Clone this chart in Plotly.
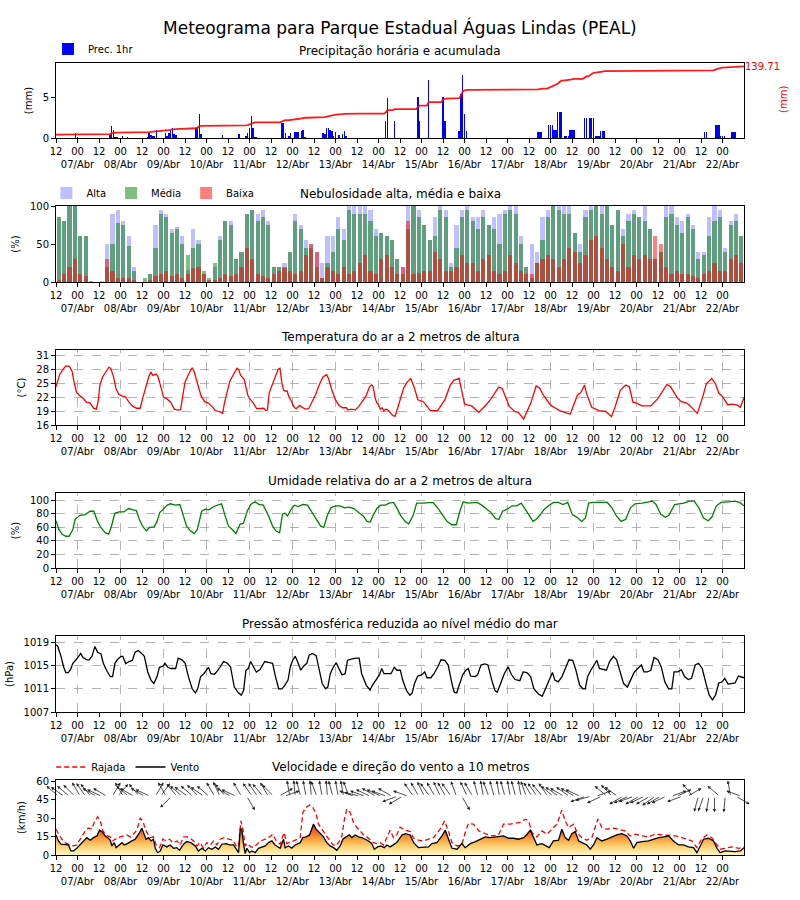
import numpy as np
import plotly.graph_objects as go

FONT = "DejaVu Sans"

# ---------------- time axis ----------------
TICK_HOURS = list(range(0, 384, 12))
TICK_TEXT = [("12" if (h // 12) % 2 == 0 else "00<br>%02d/Abr" % (7 + h // 24)) for h in TICK_HOURS]
DAY_HOURS = list(range(12, 384, 24))

# ---------------- precipitation (hour: mm) ----------------
PREC_HOURLY = {
    11: 0.65, 12: 0.1, 30: 0.4, 31: 1.5, 32: 1.0, 33: 0.15, 34: 0.15, 37: 0.3, 40: 0.15,
    51: 0.15, 52: 0.6, 53: 0.4, 54: 0.3, 55: 0.3, 56: 1.0, 61: 0.6, 62: 0.3, 63: 0.6,
    64: 1.0, 65: 1.2, 66: 0.5, 67: 0.4, 78: 1.2, 79: 1.4, 80: 3.0, 81: 0.5, 93: 0.35,
    102: 0.5, 106: 0.3, 107: 0.6, 108: 1.2, 109: 2.7, 110: 1.2, 111: 0.15, 112: 0.1,
    126: 1.9, 127: 1.9, 128: 0.6, 130: 0.3, 131: 0.6, 133: 0.7, 134: 0.7, 135: 0.8,
    137: 0.9, 138: 1.0, 139: 0.15, 149: 0.6, 150: 0.5, 151: 1.2, 152: 1.2, 153: 1.0,
    154: 0.9, 155: 0.2, 156: 0.8, 158: 0.35, 160: 0.5, 161: 0.9, 162: 0.2,
    184: 2.1, 185: 5.0, 189: 2.1, 202: 5.1, 203: 2.1, 208: 7.2, 216: 5.1, 217: 2.1,
    225: 0.9, 226: 5.4, 227: 7.8, 228: 3.0, 229: 0.9,
    269: 0.8, 270: 0.8, 271: 0.8, 275: 1.6, 276: 1.6, 277: 1.6, 278: 1.0, 279: 1.0,
    280: 3.2, 281: 3.2, 282: 3.2, 284: 0.25, 285: 0.25, 286: 0.25, 287: 1.0, 288: 1.0,
    289: 1.0, 295: 2.5, 296: 2.5, 298: 2.5, 299: 2.5, 300: 2.5, 301: 0.25, 302: 0.25,
    303: 0.25, 304: 0.9, 305: 0.9, 306: 0.9, 362: 0.7, 363: 0.7, 368: 1.65, 369: 1.65,
    370: 1.65, 371: 0.3, 372: 0.3, 373: 0.3, 377: 0.8, 378: 0.8, 379: 0.71,
}
PREC_TOTAL_LABEL = "139.71"

# ---------------- cloud cover (3-hourly, %) ----------------
CLOUD_HOURS = [3 * i + 1.5 for i in range(128)]
CLOUD_ALTA = [85, 80, 100, 100, 60, 60, 0, 0, 1, 50, 90, 95, 80, 60, 20, 0,
              0, 10, 75, 95, 90, 70, 72, 60, 16, 70, 55, 10, 0, 20, 60, 80,
              80, 30, 40, 90, 95, 90, 95, 80, 20, 20, 25, 40, 90, 75, 55, 50,
              40, 25, 60, 60, 85, 70, 100, 100, 100, 100, 95, 70, 65, 60, 55, 30,
              20, 100, 100, 95, 75, 55, 85, 100, 95, 25, 75, 95, 100, 85, 85, 95,
              75, 85, 90, 95, 100, 100, 60, 20, 50, 40, 85, 95, 100, 100, 100, 100,
              65, 50, 95, 100, 100, 100, 100, 75, 95, 70, 90, 95, 85, 100, 70, 30,
              40, 100, 100, 85, 80, 90, 75, 40, 40, 85, 100, 95, 45, 80, 90, 60]
CLOUD_MEDIA = [85, 80, 100, 100, 60, 60, 1, 0, 0, 20, 50, 78, 75, 48, 15, 0,
               5, 10, 45, 90, 85, 65, 70, 50, 35, 45, 50, 15, 5, 25, 55, 80,
               75, 30, 40, 90, 95, 80, 85, 75, 20, 20, 20, 40, 80, 70, 45, 45,
               20, 5, 25, 40, 70, 55, 95, 90, 90, 90, 80, 60, 65, 60, 55, 30,
               10, 70, 100, 85, 75, 55, 60, 95, 85, 20, 45, 85, 95, 80, 70, 85,
               75, 70, 50, 90, 95, 90, 50, 20, 5, 25, 55, 85, 100, 95, 90, 90,
               65, 40, 85, 95, 100, 90, 100, 75, 95, 60, 80, 90, 85, 80, 70, 30,
               40, 85, 90, 75, 65, 85, 70, 30, 35, 60, 80, 85, 40, 75, 80, 60]
CLOUD_BAIXA = [3, 10, 20, 30, 10, 8, 0, 0, 0, 30, 15, 5, 5, 5, 3, 0,
               0, 3, 8, 10, 15, 8, 10, 5, 10, 18, 20, 10, 2, 3, 5, 10,
               8, 10, 20, 45, 30, 10, 8, 5, 10, 15, 18, 15, 10, 15, 35, 50,
               40, 5, 20, 15, 10, 20, 10, 15, 25, 35, 15, 10, 30, 35, 20, 10,
               20, 80, 10, 12, 15, 15, 40, 30, 15, 15, 20, 35, 25, 25, 15, 30,
               35, 15, 10, 15, 35, 25, 15, 10, 10, 25, 30, 35, 30, 20, 30, 45,
               40, 25, 35, 55, 60, 45, 30, 20, 15, 50, 20, 35, 30, 35, 30, 60,
               50, 20, 10, 15, 10, 10, 8, 5, 10, 15, 25, 15, 15, 30, 35, 25]

# ---------------- temperature (hour, degC) ----------------
TEMP = [(0, 24.2), (2, 26.8), (4, 28.0), (5.5, 28.7), (7.5, 28.6), (9, 27.5), (10, 25.3), (11.5, 23.0),
        (13, 22.4), (15, 21.8), (17, 20.9), (19, 20.7), (21, 19.6), (22.5, 19.4), (23.5, 21.0), (24.5, 24.5),
        (26, 26.3), (28, 27.6), (29.5, 28.4), (30.5, 28.2), (32, 26.5), (33.5, 23.8), (35, 22.6), (37, 22.2),
        (39, 22.0), (40.5, 21.0), (43, 20.0), (45, 19.6), (47, 19.6), (48.2, 21.5), (50, 24.0), (52, 26.6),
        (53, 27.3), (54, 26.7), (56, 26.9), (57, 26.3), (59, 23.5), (60, 22.0), (62, 21.6), (64, 20.9),
        (66, 19.4), (68, 19.2), (69.5, 19.3), (71, 23.0), (72, 25.2), (74, 26.9), (76, 28.3), (77, 27.6),
        (79, 25.0), (81, 22.2), (83, 21.0), (85, 20.7), (87, 20.0), (89, 19.1), (91, 18.9), (93, 18.5),
        (94, 20.7), (95, 22.5), (97, 25.4), (99, 26.8), (101, 28.2), (102, 27.9), (103, 26.7), (105, 25.8),
        (106, 24.0), (107, 22.5), (108, 21.7), (110, 20.8), (112, 19.5), (114, 19.6), (116, 19.6), (117, 19.1),
        (118, 19.2), (119, 22.9), (121, 25.0), (123, 27.0), (124, 28.0), (125, 28.2), (126, 25.2), (127, 23.5),
        (128, 23.3), (129, 23.3), (130, 22.0), (131, 21.4), (133, 19.8), (134, 19.5), (135, 19.9), (136, 20.2),
        (137, 19.9), (139, 19.4), (141, 19.5), (143, 21.0), (145, 22.6), (147, 24.7), (149, 26.3), (151, 26.8),
        (152, 26.1), (154, 23.5), (156, 21.4), (158, 20.2), (160, 19.7), (162, 19.7), (163, 19.2), (165, 19.4),
        (167, 19.2), (169, 20.0), (171, 21.0), (173, 22.2), (175, 24.2), (176, 24.6), (177, 24.3), (178, 22.0),
        (179, 20.8), (180, 20.4), (181, 19.4), (182, 19.7), (183, 19.0), (184, 19.4), (185, 19.3), (186, 18.8),
        (188, 18.0), (189.3, 17.9), (192, 21.7), (194, 23.9), (196, 25.2), (198, 26.0), (200, 24.0), (202, 21.4),
        (205, 21.0), (209, 19.1), (213, 19.1), (217, 21.4), (220, 24.5), (222, 25.6), (225, 26.0), (227, 22.0),
        (228, 20.5), (232, 20.1), (236, 18.7), (240, 20.3), (243, 21.7), (247, 24.1), (249, 23.9), (253, 20.0),
        (256, 18.9), (258, 18.7), (261, 17.3), (265, 20.7), (268, 24.4), (270, 23.9), (272, 22.4), (276, 20.3),
        (281, 19.1), (284, 18.7), (287, 18.3), (291, 22.4), (293, 23.0), (295, 24.6), (296, 22.9), (299, 19.8),
        (303, 19.1), (307, 18.9), (310, 17.8), (312, 19.8), (315, 23.5), (318, 24.6), (320, 24.2), (322, 20.9),
        (324, 20.7), (327, 20.1), (332, 20.1), (336, 21.7), (339, 23.5), (341, 24.7), (343, 24.2), (347, 21.7),
        (349, 21.0), (352, 20.7), (354, 20.1), (358, 18.5), (361, 22.1), (363, 24.9), (366, 26.0), (368, 24.9),
        (370, 22.8), (372, 22.1), (375, 20.3), (377, 20.5), (380, 20.3), (382, 19.8), (384, 21.9)]

# ---------------- relative humidity (hour, %) ----------------
RH = [(0, 70), (1.6, 57), (3.4, 50), (5.5, 47), (7.3, 47), (9.4, 57), (10.7, 72), (13.3, 78), (16.4, 79),
      (19, 84), (21.1, 84), (23.2, 69), (25, 60), (27.6, 52), (29.4, 50), (30.9, 61), (32.8, 81), (35.3, 83),
      (37.9, 83), (40.5, 88), (43.1, 86), (44.9, 85), (46.5, 72), (48.3, 62), (50.4, 55), (52.2, 60),
      (54.8, 61), (56.4, 69), (57.9, 82), (60, 87), (62.1, 93), (63.9, 95), (66.5, 93), (69.1, 94), (70.9, 79),
      (72.9, 62), (75, 55), (77.1, 51), (78.9, 57), (81.3, 84), (83.3, 87), (85.4, 86), (88, 91), (90.6, 93),
      (92.4, 95), (94.2, 79), (96.3, 62), (98.4, 57), (100.4, 51), (102.8, 65), (104.6, 66), (106.7, 84),
      (108.7, 94), (111.1, 98), (113.2, 94), (115.7, 93), (118.3, 79), (120.9, 62), (122.7, 55), (124.8, 52),
      (126.4, 80), (127.9, 81), (129.2, 77), (131.3, 87), (133.1, 93), (135.2, 91), (137.8, 94), (140.4, 93),
      (143, 82), (145.5, 72), (147.7, 62), (149.5, 60), (151.3, 77), (153.4, 89), (155.9, 92), (158.5, 92),
      (161.1, 89), (163.7, 90), (166.3, 88), (168.9, 82), (171.5, 77), (173.6, 69), (175.4, 68), (177.2, 79),
      (179.3, 89), (181.3, 93), (183.9, 93), (185.8, 96), (188.4, 97), (190.2, 89), (192.3, 78), (194.8, 69),
      (196.9, 65), (199.5, 79), (201.3, 96), (204.7, 96), (207.8, 97), (210.4, 97), (213, 89), (215.6, 79),
      (218.2, 69), (220.8, 64), (223.4, 64), (225.4, 84), (227.3, 98), (229.9, 96), (232.4, 96), (235, 97),
      (237.6, 93), (240.2, 88), (242.8, 82), (245.4, 73), (247.2, 72), (249.3, 84), (251.9, 87), (254.5, 92),
      (257.1, 92), (259.7, 96), (261.7, 87), (264.3, 77), (266.2, 69), (268, 72), (270, 78), (272.6, 87),
      (275.2, 93), (277.8, 97), (280.4, 97), (283, 94), (285.6, 97), (288.2, 79), (290.8, 75), (293.4, 69),
      (295.5, 74), (297.3, 96), (299.9, 97), (303.8, 97), (307.7, 97), (310.3, 89), (312.8, 77), (315.4, 69),
      (318, 72), (320.6, 89), (323.2, 95), (327.1, 96), (329.7, 97), (332.8, 99), (334.9, 94), (337.5, 80),
      (340, 75), (342.1, 78), (345.3, 94), (347.8, 95), (350.4, 96), (353.6, 99), (356.2, 99), (358.8, 89),
      (361.4, 74), (364, 70), (366, 75), (368.6, 92), (371.2, 97), (375.1, 98), (379, 99), (381.6, 97), (384, 92)]

# ---------------- sea-level pressure (hour, hPa) ----------------
PRES = [(0, 1018.6), (1.0, 1018.3), (2.8, 1016.6), (4.2, 1014.8), (5.5, 1013.8), (6.8, 1013.8), (8.1, 1014.3),
        (9.4, 1015.4), (11.2, 1016.0), (12.8, 1016.8), (13.8, 1017.1), (15.1, 1016.4), (17.2, 1016.0),
        (18.5, 1016.0), (20.1, 1016.6), (21.7, 1018.3), (23.2, 1017.3), (25.1, 1017.0), (26.4, 1015.4),
        (28.2, 1014.2), (30.3, 1013.1), (31.6, 1013.1), (32.9, 1015.4), (34.2, 1016.0), (36.3, 1016.6),
        (37.3, 1016.6), (38.9, 1015.3), (40.7, 1015.7), (42.6, 1015.9), (44.1, 1017.3), (45.9, 1017.6),
        (47.8, 1017.1), (49.3, 1016.6), (51.2, 1013.9), (53.0, 1012.5), (54.6, 1011.9), (56.4, 1013.1),
        (57.7, 1014.7), (59.8, 1014.9), (60.8, 1015.4), (62.4, 1014.7), (64.2, 1014.5), (66.8, 1014.5),
        (68.2, 1016.3), (70.3, 1016.0), (72.1, 1015.4), (73.9, 1013.1), (76.0, 1011.0), (77.8, 1010.3),
        (79.1, 1011.0), (80.7, 1013.1), (82.5, 1013.6), (83.8, 1014.2), (85.1, 1014.7), (86.4, 1013.6),
        (88.5, 1013.5), (90.4, 1014.2), (91.7, 1014.8), (93.5, 1015.7), (95.6, 1015.4), (97.4, 1014.8),
        (99.5, 1011.3), (101.6, 1010.4), (103.4, 1009.9), (104.7, 1010.7), (106.0, 1014.2), (107.3, 1014.5),
        (108.6, 1015.7), (110.0, 1014.8), (111.8, 1013.9), (113.9, 1014.3), (116.5, 1015.7), (119.1, 1015.5),
        (120.9, 1015.4), (122.5, 1013.1), (124.3, 1011.0), (126.1, 1011.0), (127.7, 1011.6), (129.5, 1012.5),
        (130.8, 1014.8), (132.2, 1016.0), (133.5, 1016.6), (134.8, 1015.7), (136.6, 1014.2), (138.2, 1014.9),
        (140.0, 1015.4), (141.3, 1016.8), (143.1, 1017.1), (145.2, 1016.7), (146.5, 1014.8), (148.6, 1011.9),
        (150.4, 1011.0), (151.7, 1011.3), (153.1, 1013.6), (154.4, 1014.5), (156.4, 1015.5), (157.8, 1014.5),
        (159.6, 1013.4), (161.4, 1013.6), (162.7, 1015.9), (164.8, 1016.1), (167.4, 1016.3), (169.2, 1016.3),
        (170.6, 1013.6), (173.2, 1011.6), (175.3, 1010.8), (176.6, 1011.6), (178.4, 1012.5), (180.5, 1013.4),
        (181.8, 1014.5), (183.1, 1013.6), (184.9, 1013.6), (187.0, 1013.6), (188.8, 1014.7), (190.4, 1014.2),
        (192.2, 1014.2), (193.5, 1012.5), (195.6, 1010.7), (197.5, 1009.9), (198.8, 1010.3), (200.1, 1011.9),
        (201.9, 1013.2), (204.0, 1013.4), (205.8, 1013.9), (207.1, 1012.9), (209.2, 1012.9), (211.0, 1013.6),
        (213.1, 1014.8), (214.9, 1016.0), (217.0, 1015.9), (218.9, 1015.1), (221.0, 1011.9), (222.3, 1010.4),
        (223.6, 1010.3), (225.4, 1011.9), (227.0, 1013.4), (228.8, 1014.2), (230.1, 1014.5), (231.4, 1013.2),
        (234.0, 1013.1), (235.3, 1013.4), (237.2, 1015.1), (239.3, 1015.3), (241.1, 1015.1), (243.2, 1012.5),
        (245.0, 1010.7), (246.3, 1010.4), (248.4, 1012.2), (250.2, 1013.6), (252.3, 1014.8), (254.1, 1013.5),
        (256.2, 1012.6), (258.9, 1012.4), (260.7, 1013.9), (262.8, 1013.8), (264.9, 1013.1), (266.7, 1011.0),
        (269.3, 1010.1), (271.4, 1009.7), (273.2, 1011.0), (275.1, 1012.5), (277.1, 1013.8), (278.4, 1012.5),
        (280.3, 1012.2), (282.4, 1013.1), (284.5, 1014.5), (286.3, 1016.0), (288.4, 1015.9), (290.2, 1014.2),
        (292.3, 1011.6), (294.1, 1011.0), (295.4, 1011.0), (296.7, 1013.1), (298.5, 1014.2), (300.6, 1015.4),
        (301.9, 1015.9), (303.3, 1014.5), (305.4, 1014.3), (307.2, 1014.2), (309.0, 1015.7), (311.1, 1016.6),
        (312.9, 1016.0), (315.0, 1013.6), (316.8, 1011.9), (318.9, 1011.3), (321.0, 1012.8), (322.8, 1013.9),
        (324.7, 1014.5), (326.8, 1015.1), (328.1, 1013.9), (329.9, 1013.9), (332.0, 1014.2), (333.8, 1016.4),
        (335.9, 1016.0), (337.8, 1014.8), (339.8, 1012.2), (341.9, 1011.0), (343.7, 1011.0), (345.0, 1013.9),
        (347.1, 1013.9), (349.0, 1014.3), (350.8, 1013.1), (352.9, 1012.6), (354.7, 1012.8), (356.8, 1015.1),
        (358.6, 1015.4), (360.7, 1014.5), (362.8, 1011.9), (364.6, 1009.9), (366.4, 1009.1), (368.1, 1009.9),
        (369.9, 1012.0), (371.7, 1012.2), (373.3, 1012.8), (375.1, 1011.8), (376.9, 1011.9), (379.0, 1012.0),
        (380.9, 1013.2), (382.5, 1013.1), (384, 1012.9)]

# ---------------- wind speed and gust (hour, km/h) ----------------
WIND = [(0, 16.4), (1.4, 11.5), (2.7, 8.8), (5.1, 8.8), (7, 8.2), (8.3, 3.3), (9.8, 3.3), (11.6, 5.5),
        (13.5, 8.2), (15.4, 11.0), (17.2, 14.2), (19.1, 12.1), (20.9, 14.2), (22.8, 15.6), (24.3, 20.3),
        (25.6, 19.2), (27.5, 15.6), (28.8, 14.2), (30.3, 12.1), (31.2, 7.4), (32.5, 10.1), (33.6, 6.0),
        (35.3, 8.2), (36.8, 10.1), (38.1, 8.2), (39.9, 9.3), (42.3, 11.5), (44.2, 12.9), (46.1, 17.0),
        (47.9, 21.9), (49.2, 17.0), (50.3, 12.9), (51.6, 14.2), (53.1, 11.5), (54.4, 12.9), (55.4, 5.5),
        (56.7, 1.9), (58.2, 3.3), (59.6, 8.2), (61.9, 6.6), (63.7, 8.2), (65.6, 5.5), (67.4, 6.0), (68.9, 3.8),
        (71.2, 8.8), (73, 11.0), (75.3, 10.1), (77.7, 7.4), (79.5, 3.3), (81.4, 5.5), (83.3, 3.3), (85.1, 6.0),
        (87, 4.7), (88.9, 6.6), (90.7, 4.7), (92.6, 8.8), (95, 9.3), (96.9, 8.2), (99.1, 8.2), (101, 3.3),
        (101.9, 1.9), (102.8, 21.1), (103.7, 21.1), (104.7, 8.8), (105.6, 1.1), (106.5, 5.5), (108, 1.9),
        (109.3, 3.3), (111.2, 1.9), (113, 5.5), (114.9, 6.6), (116.8, 7.4), (118.6, 10.1), (120.5, 11.5),
        (122.3, 8.2), (125.1, 5.5), (127, 12.9), (127.9, 6.0), (129.8, 7.4), (131.6, 5.5), (133.5, 8.2),
        (136.3, 10.1), (137.8, 14.2), (139.6, 14.8), (141.5, 16.4), (143.7, 25.2), (145.2, 21.1), (147.1, 18.4),
        (149.3, 14.8), (151.1, 10.1), (153, 7.4), (154.9, 6.0), (156.7, 3.8), (158.6, 7.4), (160.1, 12.9),
        (161.9, 14.8), (163.8, 16.4), (165.1, 14.2), (167, 16.4), (168.9, 14.8), (170.7, 14.2), (172.6, 12.9),
        (174.4, 11.5), (176.3, 9.3), (177.6, 4.7), (179.5, 6.6), (181.3, 7.4), (183.2, 6.0), (184.7, 8.2),
        (186.5, 6.6), (188.4, 8.2), (190.2, 10.1), (193.1, 16.4), (195, 17.5), (197.7, 16.4), (199.6, 10.1),
        (202.3, 6.0), (205.1, 6.6), (207.9, 6.6), (209.8, 9.3), (212.6, 10.1), (215.4, 15.6), (217.3, 20.3),
        (219.1, 12.9), (221, 5.5), (223.9, 4.7), (226.5, 9.3), (228.4, 6.0), (231.2, 9.3), (234.1, 11.0),
        (236.9, 12.9), (239.6, 14.8), (242.4, 14.2), (245.1, 14.8), (247.9, 15.6), (249.8, 15.6), (252.6, 13.7),
        (255.4, 13.7), (258.2, 12.9), (261, 14.2), (262.9, 17.0), (264.7, 20.3), (266.6, 14.2), (268.4, 8.2),
        (271.2, 9.3), (274, 7.4), (275.3, 6.0), (277.6, 11.5), (280.5, 12.1), (282.3, 21.1), (284.2, 14.2),
        (286.1, 12.1), (287.9, 17.5), (289.8, 19.2), (291.7, 11.5), (293.5, 10.1), (296.3, 8.2), (298.2, 4.7),
        (300, 8.2), (301.9, 14.2), (304.7, 11.5), (307.5, 12.9), (310.2, 14.8), (313, 16.4), (315.8, 17.5),
        (318.6, 15.6), (320.5, 11.5), (322.4, 5.5), (324.2, 10.1), (327, 11.0), (330.7, 11.5), (333.5, 12.9),
        (336.3, 14.2), (339.1, 14.8), (341.9, 15.6), (344.6, 11.5), (347.5, 8.2), (350.2, 8.2), (353, 6.6),
        (355.8, 6.0), (357.7, 1.9), (359.6, 7.4), (361.4, 12.9), (364.2, 13.7), (367, 11.5), (368.9, 5.5),
        (370.7, 1.9), (373.5, 3.3), (376.3, 2.7), (379.1, 2.7), (382, 3.3), (384, 6.0)]

GUST = [(0.1, 21.1), (1.4, 17.0), (3.3, 12.9), (5.1, 10.1), (7.6, 8.2), (9.8, 7.4), (11.6, 8.2), (13.5, 12.9),
        (15.4, 16.4), (16.9, 21.1), (18.2, 21.9), (20.0, 21.1), (21.3, 26.6), (23.2, 31.2), (24.7, 27.9),
        (26.2, 19.7), (27.5, 17.0), (28.8, 15.6), (30.3, 14.8), (31.7, 11.5), (33.0, 12.9), (34.3, 12.9),
        (35.8, 14.8), (37.7, 15.6), (39.6, 16.4), (41.4, 14.8), (43.3, 17.0), (45.1, 20.3), (47.0, 30.1),
        (48.5, 27.9), (49.8, 21.1), (51.1, 17.5), (52.6, 14.2), (54.4, 14.8), (55.9, 8.2), (57.8, 6.0),
        (59.6, 12.9), (61.5, 11.5), (63.4, 12.9), (65.2, 10.1), (67.5, 11.5), (69.3, 8.2), (71.2, 14.8),
        (73.0, 14.8), (74.9, 13.7), (76.8, 11.5), (78.6, 7.4), (80.5, 10.1), (82.3, 5.5), (84.2, 10.1),
        (86.1, 8.2), (87.9, 11.5), (89.8, 8.2), (91.6, 12.9), (93.9, 14.2), (96.3, 12.9), (98.7, 12.1),
        (100.6, 7.4), (101.9, 6.6), (103.2, 27.9), (104.3, 21.1), (105.6, 7.4), (106.9, 9.3), (108.8, 6.6),
        (110.3, 6.0), (112.5, 9.3), (114.3, 11.5), (116.8, 12.9), (119.2, 14.8), (121.0, 17.0), (122.9, 11.5),
        (125.1, 8.8), (127.3, 18.4), (128.8, 9.3), (130.7, 10.1), (132.6, 11.5), (134.8, 12.9), (136.3, 14.2),
        (137.8, 34.8), (139.6, 38.9), (141.5, 40.8), (143.4, 38.9), (145.2, 33.4), (146.5, 25.2), (148.4, 21.1),
        (150.2, 17.5), (152.1, 12.9), (154.0, 9.3), (155.8, 7.4), (157.7, 10.1), (159.6, 15.6), (160.9, 28.5),
        (162.3, 37.5), (164.2, 34.8), (166.0, 26.6), (167.9, 22.5), (169.8, 19.7), (171.6, 16.4), (173.5, 14.8),
        (175.4, 12.1), (177.2, 10.1), (179.1, 9.3), (181.0, 10.1), (182.8, 8.2), (184.7, 14.2), (186.5, 20.3),
        (188.4, 14.2), (190.2, 16.4), (192.1, 22.8), (195, 20.3), (197.7, 19.2), (199.6, 13.7), (202.3, 12.1),
        (205.1, 11.5), (207.9, 12.9), (210.7, 14.2), (214.4, 21.1), (216.9, 27.9), (219.1, 19.2), (221, 10.1),
        (223.9, 7.4), (226.5, 8.2), (228.4, 18.4), (230.2, 25.8), (233, 25.2), (236, 19.7), (239.6, 17.5),
        (243.3, 15.6), (247, 16.4), (249.8, 25.2), (253.5, 25.2), (256.3, 25.8), (259.1, 26.6), (262, 29.3),
        (263.8, 27.9), (265.6, 18.4), (268.4, 14.8), (271.2, 19.7), (274, 17.0), (276.8, 21.1), (279.6, 25.2),
        (282.3, 36.7), (284.2, 27.9), (286.1, 22.5), (288.9, 25.2), (290.8, 18.4), (293.5, 14.2), (296.3, 12.1),
        (299.1, 14.2), (302.4, 29.3), (304.7, 22.5), (307.5, 21.1), (311.1, 21.9), (313.9, 21.1), (317.6, 19.7),
        (320.5, 15.6), (323.3, 17.0), (327, 15.6), (330.7, 14.8), (334.4, 17.0), (338.2, 16.4), (341.9, 16.4),
        (345.6, 15.6), (349.3, 14.2), (352.1, 12.9), (355, 11.5), (357.7, 6.0), (360.3, 12.9), (363.2, 16.4),
        (366, 14.2), (368.9, 8.2), (370.7, 4.7), (373.5, 5.5), (377.2, 6.6), (381, 5.5), (384, 6.6)]

# wind arrows (3-hourly), screen angle in degrees (0 = right, 90 = up)
ARROW_HOURS = [3 * i + 1.5 for i in range(128)]
ARROW_ANGLE = [140, 145, 140, 135, 120, 125, 130, 150, 155, 150, 60, 50, 120, 140, 150, 130,
               150, 155, 60, 55, 120, 225, 130, 140, 145, 140, 135, 145, 140, 120, 115, 130,
               150, 155, 120, 300, 125, 125, 130, 120, 135, 30, 20, 100, 95, 105, 100, 95,
               110, 100, 95, 105, 100, 100, 110, 160, 165, 160, 155, 150, 155, 160, 150, 200,
               210, 160, 125, 120, 115, 125, 120, 115, 120, 125, 110, 300, 115, 120, 105, 100,
               110, 105, 100, 105, 100, 105, 100, 110, 120, 125, 130, 125, 140, 145, 150, 145,
               150, 155, 200, 195, 20, 205, 140, 135, 145, 210, 205, 200, 210, 205, 210, 215,
               210, 205, 20, 25, 200, 30, 130, 255, 250, 260, 270, 140, 265, 100, 330, 160]
ARROW_BASE = 48      # km/h level of arrow tails
ARROW_LEN_PX = 16

# ---------------- layout geometry ----------------
XDOM = [0.07, 0.93]
YDOMS = [[1 - 138 / 900, 1 - 63 / 900],
         [1 - 282 / 900, 1 - 206 / 900],
         [1 - 425 / 900, 1 - 350 / 900],
         [1 - 568 / 900, 1 - 493 / 900],
         [1 - 712 / 900, 1 - 636 / 900],
         [1 - 855 / 900, 1 - 780 / 900]]
TITLES = ["Precipitação horária e acumulada", "Nebulosidade alta, média e baixa",
          "Temperatura do ar a 2 metros de altura", "Umidade relativa do ar a 2 metros de altura",
          "Pressão atmosférica reduzida ao nível médio do mar", "Velocidade e direção do vento a 10 metros"]
TITLE_Y = [51, 194, 337, 481, 624, 767]

fig = go.Figure()

# precip
ph = list(PREC_HOURLY.keys())
pv = list(PREC_HOURLY.values())
fig.add_trace(go.Bar(x=ph, y=pv, width=0.85, marker=dict(color="#0000ff", line=dict(width=0)),
                     name="Prec. 1hr", xaxis="x", yaxis="y", legend="legend"))
hours_all = np.arange(0, 385)
cum = np.cumsum([PREC_HOURLY.get(int(h), 0.0) for h in hours_all])
fig.add_trace(go.Scatter(x=hours_all, y=cum, mode="lines", line=dict(color="rgba(255,0,0,0.9)", width=1.8),
                         xaxis="x", yaxis="y7", showlegend=False))

# clouds
for name, vals, col in [("Alta", CLOUD_ALTA, "rgba(0,0,255,0.25)"),
                        ("Média", CLOUD_MEDIA, "rgba(0,128,0,0.5)"),
                        ("Baixa", CLOUD_BAIXA, "rgba(255,0,0,0.5)")]:
    fig.add_trace(go.Bar(x=CLOUD_HOURS, y=vals, width=2.3, marker=dict(color=col, line=dict(width=0)),
                         name=name, xaxis="x2", yaxis="y2", legend="legend2"))

def xy(points):
    return [p[0] for p in points], [p[1] for p in points]

tx, ty = xy(TEMP)
fig.add_trace(go.Scatter(x=tx, y=ty, mode="lines", line=dict(color="red", width=1.3),
                         xaxis="x3", yaxis="y3", showlegend=False))
rx, ry = xy(RH)
fig.add_trace(go.Scatter(x=rx, y=ry, mode="lines", line=dict(color="green", width=1.3),
                         xaxis="x4", yaxis="y4", showlegend=False))
px_, py_ = xy(PRES)
fig.add_trace(go.Scatter(x=px_, y=py_, mode="lines", line=dict(color="black", width=1.3),
                         xaxis="x5", yaxis="y5", showlegend=False))

wx, wy = xy(WIND)
gx, gy = xy(GUST)
fig.add_trace(go.Scatter(x=wx, y=wy, mode="lines", line=dict(width=0), fill="tozeroy",
                         fillgradient=dict(type="vertical",
                                           colorscale=[[0, "#fff7c0"], [0.3, "#fdd070"], [0.55, "#f99a3a"],
                                                       [1, "#dd2a1c"]],
                                           start=0, stop=25),
                         xaxis="x6", yaxis="y6", showlegend=False, hoverinfo="skip"))
fig.add_trace(go.Scatter(x=gx, y=gy, mode="lines", line=dict(color="red", width=1.3, dash="5px,3px"),
                         name="Rajada", xaxis="x6", yaxis="y6", legend="legend3"))
fig.add_trace(go.Scatter(x=wx, y=wy, mode="lines", line=dict(color="black", width=1.3),
                         name="Vento", xaxis="x6", yaxis="y6", legend="legend3"))

# ---------------- axes ----------------
def xaxis(i):
    return dict(domain=XDOM, range=[0, 384], tickvals=TICK_HOURS, ticktext=TICK_TEXT, tickangle=0,
                ticks="outside", ticklen=4, tickcolor="black", showline=True, linecolor="black",
                linewidth=1, mirror=True, showgrid=False, zeroline=False, automargin=False,
                tickfont=dict(size=10, color="black", family=FONT), anchor="y" + ("" if i == 1 else str(i)))

def yaxis(i, rng, tickvals, title, grid=False):
    return dict(domain=YDOMS[i - 1], range=rng, tickvals=tickvals, ticks="outside", ticklen=4,
                tickcolor="black", showline=True, linecolor="black", linewidth=1, mirror=True,
                showgrid=grid, gridcolor="#a0a0a0", griddash="dash", gridwidth=0.8, zeroline=False,
                automargin=False, tickfont=dict(size=10, color="black", family=FONT),
                title=dict(text=title, font=dict(size=10, color="black", family=FONT), standoff=8),
                anchor="x" + ("" if i == 1 else str(i)))

layout = dict(width=800, height=900, margin=dict(l=0, r=0, t=0, b=0), paper_bgcolor="white",
              plot_bgcolor="white", barmode="overlay", font=dict(family=FONT, color="black"),
              bargap=0, hovermode=False)
for i in range(1, 7):
    layout["xaxis" + ("" if i == 1 else str(i))] = xaxis(i)
layout["yaxis"] = yaxis(1, [0, 9.3], [0, 5], "(mm)")
layout["yaxis2"] = yaxis(2, [0, 100], [0, 50, 100], "(%)")
layout["yaxis3"] = yaxis(3, [16, 32.1], [16, 19, 22, 25, 28, 31], "(°C)", grid=True)
layout["yaxis4"] = yaxis(4, [0, 111], [0, 20, 40, 60, 80, 100], "(%)", grid=True)
layout["yaxis5"] = yaxis(5, [1007, 1020.1], [1007, 1011, 1015, 1019], "(hPa)", grid=True)
layout["yaxis6"] = yaxis(6, [0, 61.3], [0, 15, 30, 45, 60], "(km/h)")
layout["yaxis7"] = dict(overlaying="y", side="right", anchor="x", range=[-6.99, 146.7],
                        tickvals=[float(cum[-1])], ticktext=[PREC_TOTAL_LABEL], ticks="",
                        showline=False, showgrid=False, zeroline=False, automargin=False,
                        tickfont=dict(size=10, color="red", family=FONT))

leg_common = dict(orientation="h", xanchor="left", yanchor="middle", bgcolor="rgba(0,0,0,0)",
                  font=dict(size=10, family=FONT, color="black"), itemwidth=30, tracegroupgap=0)
layout["legend"] = dict(x=0.06, y=1 - 49 / 900, **leg_common)
layout["legend2"] = dict(x=0.058, y=1 - 193 / 900, **leg_common)
layout["legend3"] = dict(x=0.064, y=1 - 767 / 900, **leg_common)

annotations = [dict(text="Meteograma para Parque Estadual Águas Lindas (PEAL)", x=0.5, y=1 - 28 / 900,
                    xref="paper", yref="paper", showarrow=False, yanchor="middle", xanchor="center",
                    font=dict(size=17, family=FONT))]
for t, yy in zip(TITLES, TITLE_Y):
    annotations.append(dict(text=t, x=0.5, y=1 - yy / 900, xref="paper", yref="paper", showarrow=False,
                            yanchor="middle", xanchor="center", font=dict(size=12, family=FONT)))
annotations.append(dict(text="(mm)", x=783 / 800, y=1 - 100 / 900, xref="paper", yref="paper",
                        showarrow=False, textangle=-90, xanchor="center", yanchor="middle",
                        font=dict(size=10, color="red", family=FONT)))

# wind direction arrows (tail at ARROW_BASE, direction from ARROW_ANGLE)
px_per_hour = 688 / 384
px_per_kmh = 75 / 61.3
for h, a in zip(ARROW_HOURS, ARROW_ANGLE):
    rad = np.deg2rad(a)
    hx = h + ARROW_LEN_PX * np.cos(rad) / px_per_hour
    hy = ARROW_BASE + ARROW_LEN_PX * np.sin(rad) / px_per_kmh
    annotations.append(dict(x=hx, y=hy, ax=h, ay=ARROW_BASE, xref="x6", yref="y6", axref="x6", ayref="y6",
                            text="", showarrow=True, arrowhead=2, arrowsize=0.8, arrowwidth=0.8,
                            arrowcolor="#222222", standoff=0, startstandoff=0))
layout["annotations"] = annotations

shapes = []
for ax_i in (3, 4, 5):
    for h in DAY_HOURS:
        shapes.append(dict(type="line", xref="x%d" % ax_i, yref="y%d domain" % ax_i, x0=h, x1=h, y0=0, y1=1,
                           line=dict(color="#a0a0a0", width=0.8, dash="dash"), layer="below"))
layout["shapes"] = shapes

fig.update_layout(**layout)
fig.write_html("out.html", config={"displayModeBar": False, "staticPlot": True},
               post_script="document.body.style.margin='0px';")
